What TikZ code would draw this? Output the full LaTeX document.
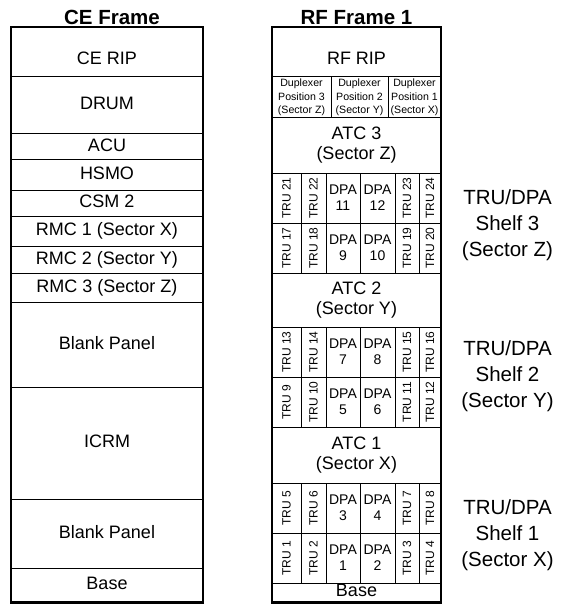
\documentclass[tikz,border=0pt]{standalone}
\usepackage{fontspec}
\setmainfont{Liberation Sans}
\begin{document}
\begin{tikzpicture}[x=1pt,y=-1pt,
  panel/.style={draw,line width=1pt,inner sep=0pt,outer sep=0pt,align=center,font=\fontsize{18}{20}\selectfont},
  slot/.style={panel,text depth=4pt},
  cemod/.style={slot,minimum width=192},
  rfmod/.style={slot,minimum width=169},
  atc/.style={panel,minimum width=169},
  duplex/.style={panel,minimum height=41,font=\fontsize{10.6}{13.5}\selectfont},
  tru/.style={panel,rotate=90,minimum width=50,font=\fontsize{12}{14}\selectfont},
  dpa/.style={panel,minimum height=50,font=\fontsize{14}{16}\selectfont},
  frame/.style={draw,line width=2.4pt,inner sep=0pt,outer sep=0pt},
  title/.style={inner sep=0pt,font=\bfseries\fontsize{20.5}{24}\selectfont},
  side/.style={inner sep=0pt,align=center,font=\fontsize{20.5}{26}\selectfont}]
  \useasboundingbox (0,0) rectangle (560,604);
  % CE frame
  \node[title] (cetitle) at (112,17.5) {CE Frame};
  \node[cemod,minimum height=50,text height=29pt] (cerip) at (107,52) {CE RIP};
  \node[cemod,minimum height=57] (drum) at (107,105.5) {DRUM};
  \node[cemod,minimum height=26] (acu) at (107,147) {ACU};
  \node[cemod,minimum height=30] (hsmo) at (107,175) {HSMO};
  \node[cemod,minimum height=26] (csm) at (107,203) {CSM 2};
  \node[cemod,minimum height=30] (rmcx) at (107,231) {RMC 1 (Sector X)};
  \node[cemod,minimum height=27] (rmcy) at (107,259.5) {RMC 2 (Sector Y)};
  \node[cemod,minimum height=29] (rmcz) at (107,287.5) {RMC 3 (Sector Z)};
  \node[cemod,minimum height=85] (blanka) at (107,344.5) {Blank Panel};
  \node[cemod,minimum height=112] (icrm) at (107,443) {ICRM};
  \node[cemod,minimum height=69] (blankb) at (107,533.5) {Blank Panel};
  \node[cemod,minimum height=34.5] (cebase) at (107,585.25) {Base};
  \node[frame,minimum width=192,minimum height=575.5] (ceframe) at (107,314.75) {};
  % RF frame 1
  \node[title] (rftitle) at (356.5,17.5) {RF Frame 1};
  \node[rfmod,minimum height=50,text height=29pt] (rfrip) at (356.5,52) {RF RIP};
  \node[duplex,minimum width=59] (dupz) at (301.5,97.5) {Duplexer\\Position 3\\(Sector Z)};
  \node[duplex,minimum width=57] (dupy) at (359.5,97.5) {Duplexer\\Position 2\\(Sector Y)};
  \node[duplex,minimum width=53] (dupx) at (414.5,97.5) {Duplexer\\Position 1\\(Sector X)};
  \node[atc,minimum height=55] (atcz) at (356.5,145.5) {ATC 3\\(Sector Z)};
  % shelf 3
  \node[tru,minimum height=29] (tru21) at (286.5,198) {TRU 21};
  \node[tru,minimum height=25] (tru22) at (313.5,198) {TRU 22};
  \node[dpa,minimum width=34] (dpa11) at (343,198) {DPA\\11};
  \node[dpa,minimum width=35] (dpa12) at (377.5,198) {DPA\\12};
  \node[tru,minimum height=24] (tru23) at (407,198) {TRU 23};
  \node[tru,minimum height=22] (tru24) at (430,198) {TRU 24};
  \node[tru,minimum height=29] (tru17) at (286.5,248) {TRU 17};
  \node[tru,minimum height=25] (tru18) at (313.5,248) {TRU 18};
  \node[dpa,minimum width=34] (dpa9) at (343,248) {DPA\\9};
  \node[dpa,minimum width=35] (dpa10) at (377.5,248) {DPA\\10};
  \node[tru,minimum height=24] (tru19) at (407,248) {TRU 19};
  \node[tru,minimum height=22] (tru20) at (430,248) {TRU 20};
  \node[atc,minimum height=54] (atcy) at (356.5,300) {ATC 2\\(Sector Y)};
  % shelf 2
  \node[tru,minimum height=29] (tru13) at (286.5,352) {TRU 13};
  \node[tru,minimum height=25] (tru14) at (313.5,352) {TRU 14};
  \node[dpa,minimum width=34] (dpa7) at (343,352) {DPA\\7};
  \node[dpa,minimum width=35] (dpa8) at (377.5,352) {DPA\\8};
  \node[tru,minimum height=24] (tru15) at (407,352) {TRU 15};
  \node[tru,minimum height=22] (tru16) at (430,352) {TRU 16};
  \node[tru,minimum height=29] (tru9) at (286.5,402) {TRU 9};
  \node[tru,minimum height=25] (tru10) at (313.5,402) {TRU 10};
  \node[dpa,minimum width=34] (dpa5) at (343,402) {DPA\\5};
  \node[dpa,minimum width=35] (dpa6) at (377.5,402) {DPA\\6};
  \node[tru,minimum height=24] (tru11) at (407,402) {TRU 11};
  \node[tru,minimum height=22] (tru12) at (430,402) {TRU 12};
  \node[atc,minimum height=56] (atcx) at (356.5,455) {ATC 1\\(Sector X)};
  % shelf 1
  \node[tru,minimum height=29] (tru5) at (286.5,508) {TRU 5};
  \node[tru,minimum height=25] (tru6) at (313.5,508) {TRU 6};
  \node[dpa,minimum width=34] (dpa3) at (343,508) {DPA\\3};
  \node[dpa,minimum width=35] (dpa4) at (377.5,508) {DPA\\4};
  \node[tru,minimum height=24] (tru7) at (407,508) {TRU 7};
  \node[tru,minimum height=22] (tru8) at (430,508) {TRU 8};
  \node[tru,minimum height=29] (tru1) at (286.5,558) {TRU 1};
  \node[tru,minimum height=25] (tru2) at (313.5,558) {TRU 2};
  \node[dpa,minimum width=34] (dpa1) at (343,558) {DPA\\1};
  \node[dpa,minimum width=35] (dpa2) at (377.5,558) {DPA\\2};
  \node[tru,minimum height=24] (tru3) at (407,558) {TRU 3};
  \node[tru,minimum height=22] (tru4) at (430,558) {TRU 4};
  \node[rfmod,minimum height=19.5] (rfbase) at (356.5,592.75) {Base};
  \node[frame,minimum width=169,minimum height=575.5] (rfframe) at (356.5,314.75) {};
  % shelf labels
  \node[side] (shelfz) at (507.5,225) {TRU/DPA\\Shelf 3\\(Sector Z)};
  \node[side] (shelfy) at (507.5,376) {TRU/DPA\\Shelf 2\\(Sector Y)};
  \node[side] (shelfx) at (507.5,535) {TRU/DPA\\Shelf 1\\(Sector X)};
\end{tikzpicture}
\end{document}
